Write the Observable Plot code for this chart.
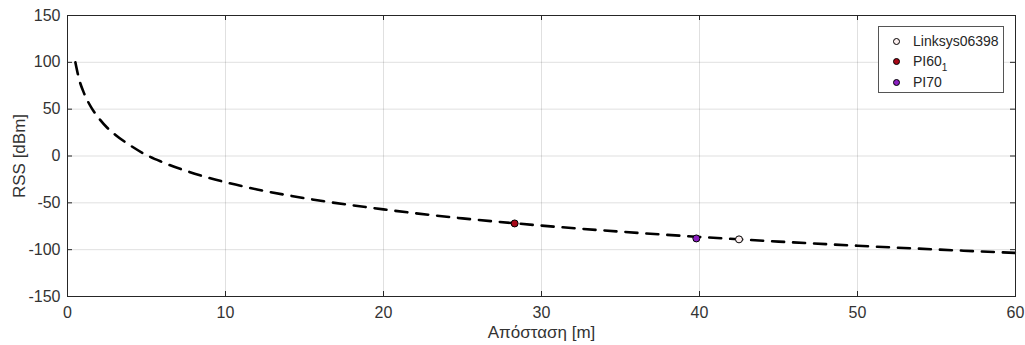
<!DOCTYPE html>
<html>
<head>
<meta charset="utf-8">
<script src="https://cdn.jsdelivr.net/npm/d3@7"></script>
<script src="https://cdn.jsdelivr.net/npm/@observablehq/plot@0.6"></script>
<style>
  html, body { margin: 0; padding: 0; background: #fff; }
  #wrap { position: relative; width: 1025px; height: 345px; font-family: "Liberation Sans", Arial, sans-serif; }
  #legend { position: absolute; left: 878px; top: 26px; width: 126px; height: 67px; border: 1px solid #555; background: #fff; box-sizing: border-box; font-size: 14px; color: #262626; }
  .item { position: absolute; left: 0; height: 18px; line-height: 18px; }
  .mk { position: absolute; left: 14px; top: 5.5px; width: 5px; height: 5px; border-radius: 50%; border: 1px solid #000; }
  .lb { position: absolute; left: 34px; white-space: nowrap; }
  sub { font-size: 10px; vertical-align: -5px; line-height: 0; }
</style>
</head>
<body>
<div id="wrap"><div id="chart"></div><div id="legend"></div></div>
<script>
// Tick labels
const xTicks = [0, 10, 20, 30, 40, 50, 60];
const yTicks = [-150, -100, -50, 0, 50, 100, 150];

// Path-loss curve, values
const curveDist = [0.5, 0.75, 1, 1.25, 1.5, 2, 2.5, 3, 4, 5, 6, 8, 10, 12, 15, 20, 25, 30, 35, 40, 45, 50, 55, 60];
const curveRss  = [100, 81, 69, 59.6, 52, 40, 30.4, 23, 11, 1, -6.5, -18.6, -28, -35.7, -45, -57, -66.6, -74.3, -80.8, -86.4, -91.4, -95.8, -99.8, -103.5];

// Access points
const apNames = ["Linksys06398", "PI60_1", "PI70"];
const apDist  = [42.5, 28.3, 39.8];
const apRss   = [-89, -72, -88];
const apFill  = ["#fbeeee", "#a80818", "#8a1fc0"];

const curve = curveDist.map((d, i) => ({d, r: curveRss[i]}));
const aps = apNames.map((n, i) => ({n, d: apDist[i], r: apRss[i], f: apFill[i]}));

const W = 1025, H = 345, mL = 67, mR = 10, mT = 15, mB = 49;
const pw = W - mL - mR, ph = H - mT - mB;
const tk = 5;
const txt = "#333";

const chart = Plot.plot({
  width: W, height: H,
  marginLeft: mL, marginRight: mR, marginTop: mT, marginBottom: mB,
  style: { fontFamily: '"Liberation Sans", Arial, sans-serif', fontSize: "16px", background: "#fff" },
  x: { domain: [0, 60] },
  y: { domain: [-150, 150] },
  marks: [
    Plot.gridX(xTicks, { stroke: "#262626", strokeOpacity: 0.14 }),
    Plot.gridY(yTicks, { stroke: "#262626", strokeOpacity: 0.14 }),
    Plot.tickX(xTicks, { x: d => d, stroke: "#262626", insetTop: ph - tk }),
    Plot.tickX(xTicks, { x: d => d, stroke: "#262626", insetBottom: ph - tk }),
    Plot.tickY(yTicks, { y: d => d, stroke: "#262626", insetRight: pw - tk }),
    Plot.tickY(yTicks, { y: d => d, stroke: "#262626", insetLeft: pw - tk }),
    Plot.line(curve, { x: "d", y: "r", stroke: "#000", strokeWidth: 2.6, strokeDasharray: "12,9", curve: "monotone-x" }),
    Plot.dot(aps, { x: "d", y: "r", r: 3.5, fill: "f", stroke: "#000", strokeWidth: 1 }),
    Plot.frame({ stroke: "#262626" }),
    Plot.axisX(xTicks, { tickSize: 0, tickPadding: 10, fill: txt, tickFormat: d => String(d), label: null }),
    Plot.axisX({ ticks: [], tickSize: 0, label: "Απόσταση [m]", labelAnchor: "center", labelArrow: "none", labelOffset: 41, fill: txt, fontSize: 17 }),
    Plot.axisY(yTicks, { tickSize: 0, tickPadding: 7, fill: txt, tickFormat: d => String(d), label: null }),
    Plot.axisY({ ticks: [], tickSize: 0, label: "RSS [dBm]", labelAnchor: "center", labelArrow: "none", labelOffset: 55, fill: txt, fontSize: 17 })
  ]
});
document.getElementById("chart").appendChild(chart);

// Legend
const leg = document.getElementById("legend");
const rowTops = [5, 25, 46];
aps.forEach((a, i) => {
  const it = document.createElement("div");
  it.className = "item";
  it.style.top = rowTops[i] + "px";
  const mk = document.createElement("div");
  mk.className = "mk";
  mk.style.background = a.f;
  const lb = document.createElement("div");
  lb.className = "lb";
  const parts = a.n.split("_");
  lb.textContent = parts[0];
  if (parts[1]) { const s = document.createElement("sub"); s.textContent = parts[1]; lb.appendChild(s); }
  it.appendChild(mk); it.appendChild(lb);
  leg.appendChild(it);
});
</script>
</body>
</html>
